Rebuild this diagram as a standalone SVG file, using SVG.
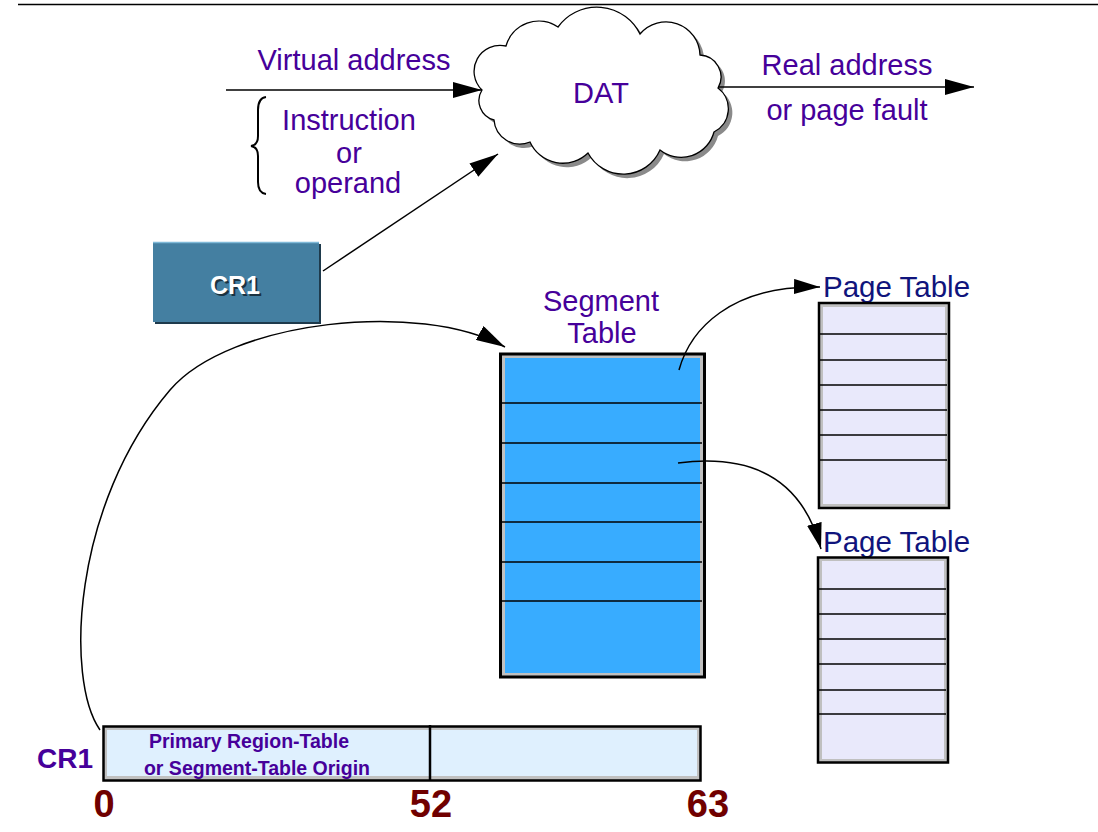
<svg xmlns="http://www.w3.org/2000/svg" width="1098" height="832" viewBox="0 0 1098 832">
  <style>
    .lbl { font-family: "Liberation Sans", Arial, sans-serif; font-size: 29px; fill: #46009a; text-anchor: middle; }
    .pt { font-family: "Liberation Sans", Arial, sans-serif; font-size: 29.5px; fill: #10147c; }
    .bold { font-family: "Liberation Sans", Arial, sans-serif; font-weight: bold; }
    .conn { fill: none; stroke: #000; stroke-width: 1.5; }
    .row { stroke: #000; stroke-width: 1.6; }
    .num { font-family: "Liberation Sans", Arial, sans-serif; font-weight: bold; font-size: 38px; fill: #700000; text-anchor: middle; }
  </style>
  <defs>
    <marker id="ah" markerWidth="29" markerHeight="16" refX="29" refY="8" orient="auto" markerUnits="userSpaceOnUse">
      <path d="M0,0 L29,8 L0,16 z" fill="#000"/>
    </marker>
    <marker id="ahs" markerWidth="26" markerHeight="15" refX="26" refY="7.5" orient="auto" markerUnits="userSpaceOnUse">
      <path d="M0,0 L26,7.5 L0,15 z" fill="#000"/>
    </marker>
    <path id="cloud" d="M482,90 A26,26 0 0 1 506,46 A34,34 0 0 1 558,27 A48,48 0 0 1 640,34 A34,34 0 0 1 700,55 A22,22 0 0 1 718,88 A26,26 0 0 1 714,132 A34,34 0 0 1 660,150 A40,40 0 0 1 588,153 A36,36 0 0 1 530,142 A26,26 0 0 1 494,120 A20,20 0 0 1 482,90 Z"/>
  </defs>

  <rect x="0" y="0" width="1098" height="832" fill="#fff"/>
  <line x1="18" y1="4.5" x2="1098" y2="4.5" stroke="#000" stroke-width="1.5"/>

  <!-- DAT cloud -->
  <g id="dat">
    <use href="#cloud" transform="translate(4,4)" fill="#8a8a8a"/>
    <use href="#cloud" fill="#fff" stroke="#000" stroke-width="1.3"/>
    <text class="lbl" x="601" y="103">DAT</text>
  </g>

  <!-- input / output labels -->
  <g id="virtual-address">
    <text class="lbl" x="354" y="70">Virtual address</text>
  </g>
  <g id="instruction-operand">
    <path d="M266,97 Q258,98 258,110 L258,136 Q258,145 251,146 Q258,147 258,156 L258,182 Q258,193 266,194" fill="none" stroke="#000" stroke-width="2"/>
    <text class="lbl" x="349" y="130">Instruction</text>
    <text class="lbl" x="349" y="163">or</text>
    <text class="lbl" x="348" y="193">operand</text>
  </g>
  <g id="real-address">
    <text class="lbl" x="847" y="75">Real address</text>
    <text class="lbl" x="847" y="120">or page fault</text>
  </g>

  <!-- control register 1 (box) -->
  <g id="cr1-box">
    <rect x="155" y="244" width="166" height="80" fill="#1e3a4c"/>
    <rect x="153" y="242" width="166" height="80" fill="#447fa1"/>
    <line x1="153" y1="242.5" x2="319" y2="242.5" stroke="#7fb9d8" stroke-width="1.5"/>
    <text class="bold" x="237" y="296" font-size="25" fill="#000" text-anchor="middle" opacity="0.6">CR1</text>
    <text class="bold" x="235" y="294" font-size="25" fill="#fff" text-anchor="middle">CR1</text>
  </g>

  <!-- segment table -->
  <g id="segment-table">
    <text class="lbl" x="601" y="311">Segment</text>
    <text class="lbl" x="602" y="343">Table</text>
    <rect x="500.5" y="354" width="204" height="323" fill="#c0c0c0" stroke="#000" stroke-width="3"/>
    <rect x="505" y="358" width="195" height="315" fill="#38acff"/>
    <line class="row" x1="500" y1="403" x2="702" y2="403"/>
    <line class="row" x1="500" y1="443" x2="702" y2="443"/>
    <line class="row" x1="500" y1="483" x2="702" y2="483"/>
    <line class="row" x1="500" y1="522" x2="702" y2="522"/>
    <line class="row" x1="500" y1="562" x2="702" y2="562"/>
    <line class="row" x1="500" y1="601" x2="702" y2="601"/>
  </g>

  <!-- page tables -->
  <g id="page-table-1">
    <text class="pt" x="823" y="297">Page Table</text>
    <rect x="819" y="303" width="130" height="205" fill="#c0c0c0" stroke="#000" stroke-width="2.5"/>
    <rect x="823" y="307" width="122" height="197" fill="#e9e9fb"/>
    <line class="row" x1="819" y1="334" x2="947" y2="334"/>
    <line class="row" x1="819" y1="360" x2="947" y2="360"/>
    <line class="row" x1="819" y1="385" x2="947" y2="385"/>
    <line class="row" x1="819" y1="410" x2="947" y2="410"/>
    <line class="row" x1="819" y1="435" x2="947" y2="435"/>
    <line class="row" x1="819" y1="460" x2="947" y2="460"/>
  </g>
  <g id="page-table-2">
    <text class="pt" x="823" y="552">Page Table</text>
    <rect x="818" y="557.5" width="130" height="205" fill="#c0c0c0" stroke="#000" stroke-width="2.5"/>
    <rect x="822" y="561" width="122" height="198" fill="#e9e9fb"/>
    <line class="row" x1="818" y1="589" x2="946" y2="589"/>
    <line class="row" x1="818" y1="614" x2="946" y2="614"/>
    <line class="row" x1="818" y1="639" x2="946" y2="639"/>
    <line class="row" x1="818" y1="664" x2="946" y2="664"/>
    <line class="row" x1="818" y1="690" x2="946" y2="690"/>
    <line class="row" x1="818" y1="714" x2="946" y2="714"/>
  </g>

  <!-- control register 1 (bit layout) -->
  <g id="cr1-register">
    <text class="bold" x="65" y="768" font-size="28" fill="#46009a" text-anchor="middle">CR1</text>
    <rect x="103.5" y="726.5" width="597" height="54" fill="#c0c0c0" stroke="#000" stroke-width="2.5"/>
    <rect x="107" y="730" width="590" height="46" fill="#dff0fe"/>
    <line x1="430" y1="725" x2="430" y2="781" stroke="#000" stroke-width="2.5"/>
    <text class="bold" x="249" y="748" font-size="19.5" fill="#46009a" text-anchor="middle">Primary Region-Table</text>
    <text class="bold" x="257" y="775" font-size="19.5" fill="#46009a" text-anchor="middle">or Segment-Table Origin</text>
    <text class="num" x="104" y="817">0</text>
    <text class="num" x="431" y="817">52</text>
    <text class="num" x="708" y="817">63</text>
  </g>

  <!-- connectors -->
  <g id="connectors">
    <line class="conn" x1="226" y1="90" x2="482" y2="90" marker-end="url(#ah)"/>
    <line class="conn" x1="718" y1="87" x2="974" y2="87" marker-end="url(#ah)"/>
    <line class="conn" x1="323" y1="271" x2="498" y2="154" marker-end="url(#ah)"/>
    <path class="conn" d="M100,730 C65,680 72,505 170,390 C230,320 420,300 505,347" marker-end="url(#ah)"/>
    <path class="conn" d="M679,370 C690,330 730,285 820,287" marker-end="url(#ahs)"/>
    <path class="conn" d="M678,463 C740,455 800,470 821,549" marker-end="url(#ahs)"/>
  </g>
</svg>
